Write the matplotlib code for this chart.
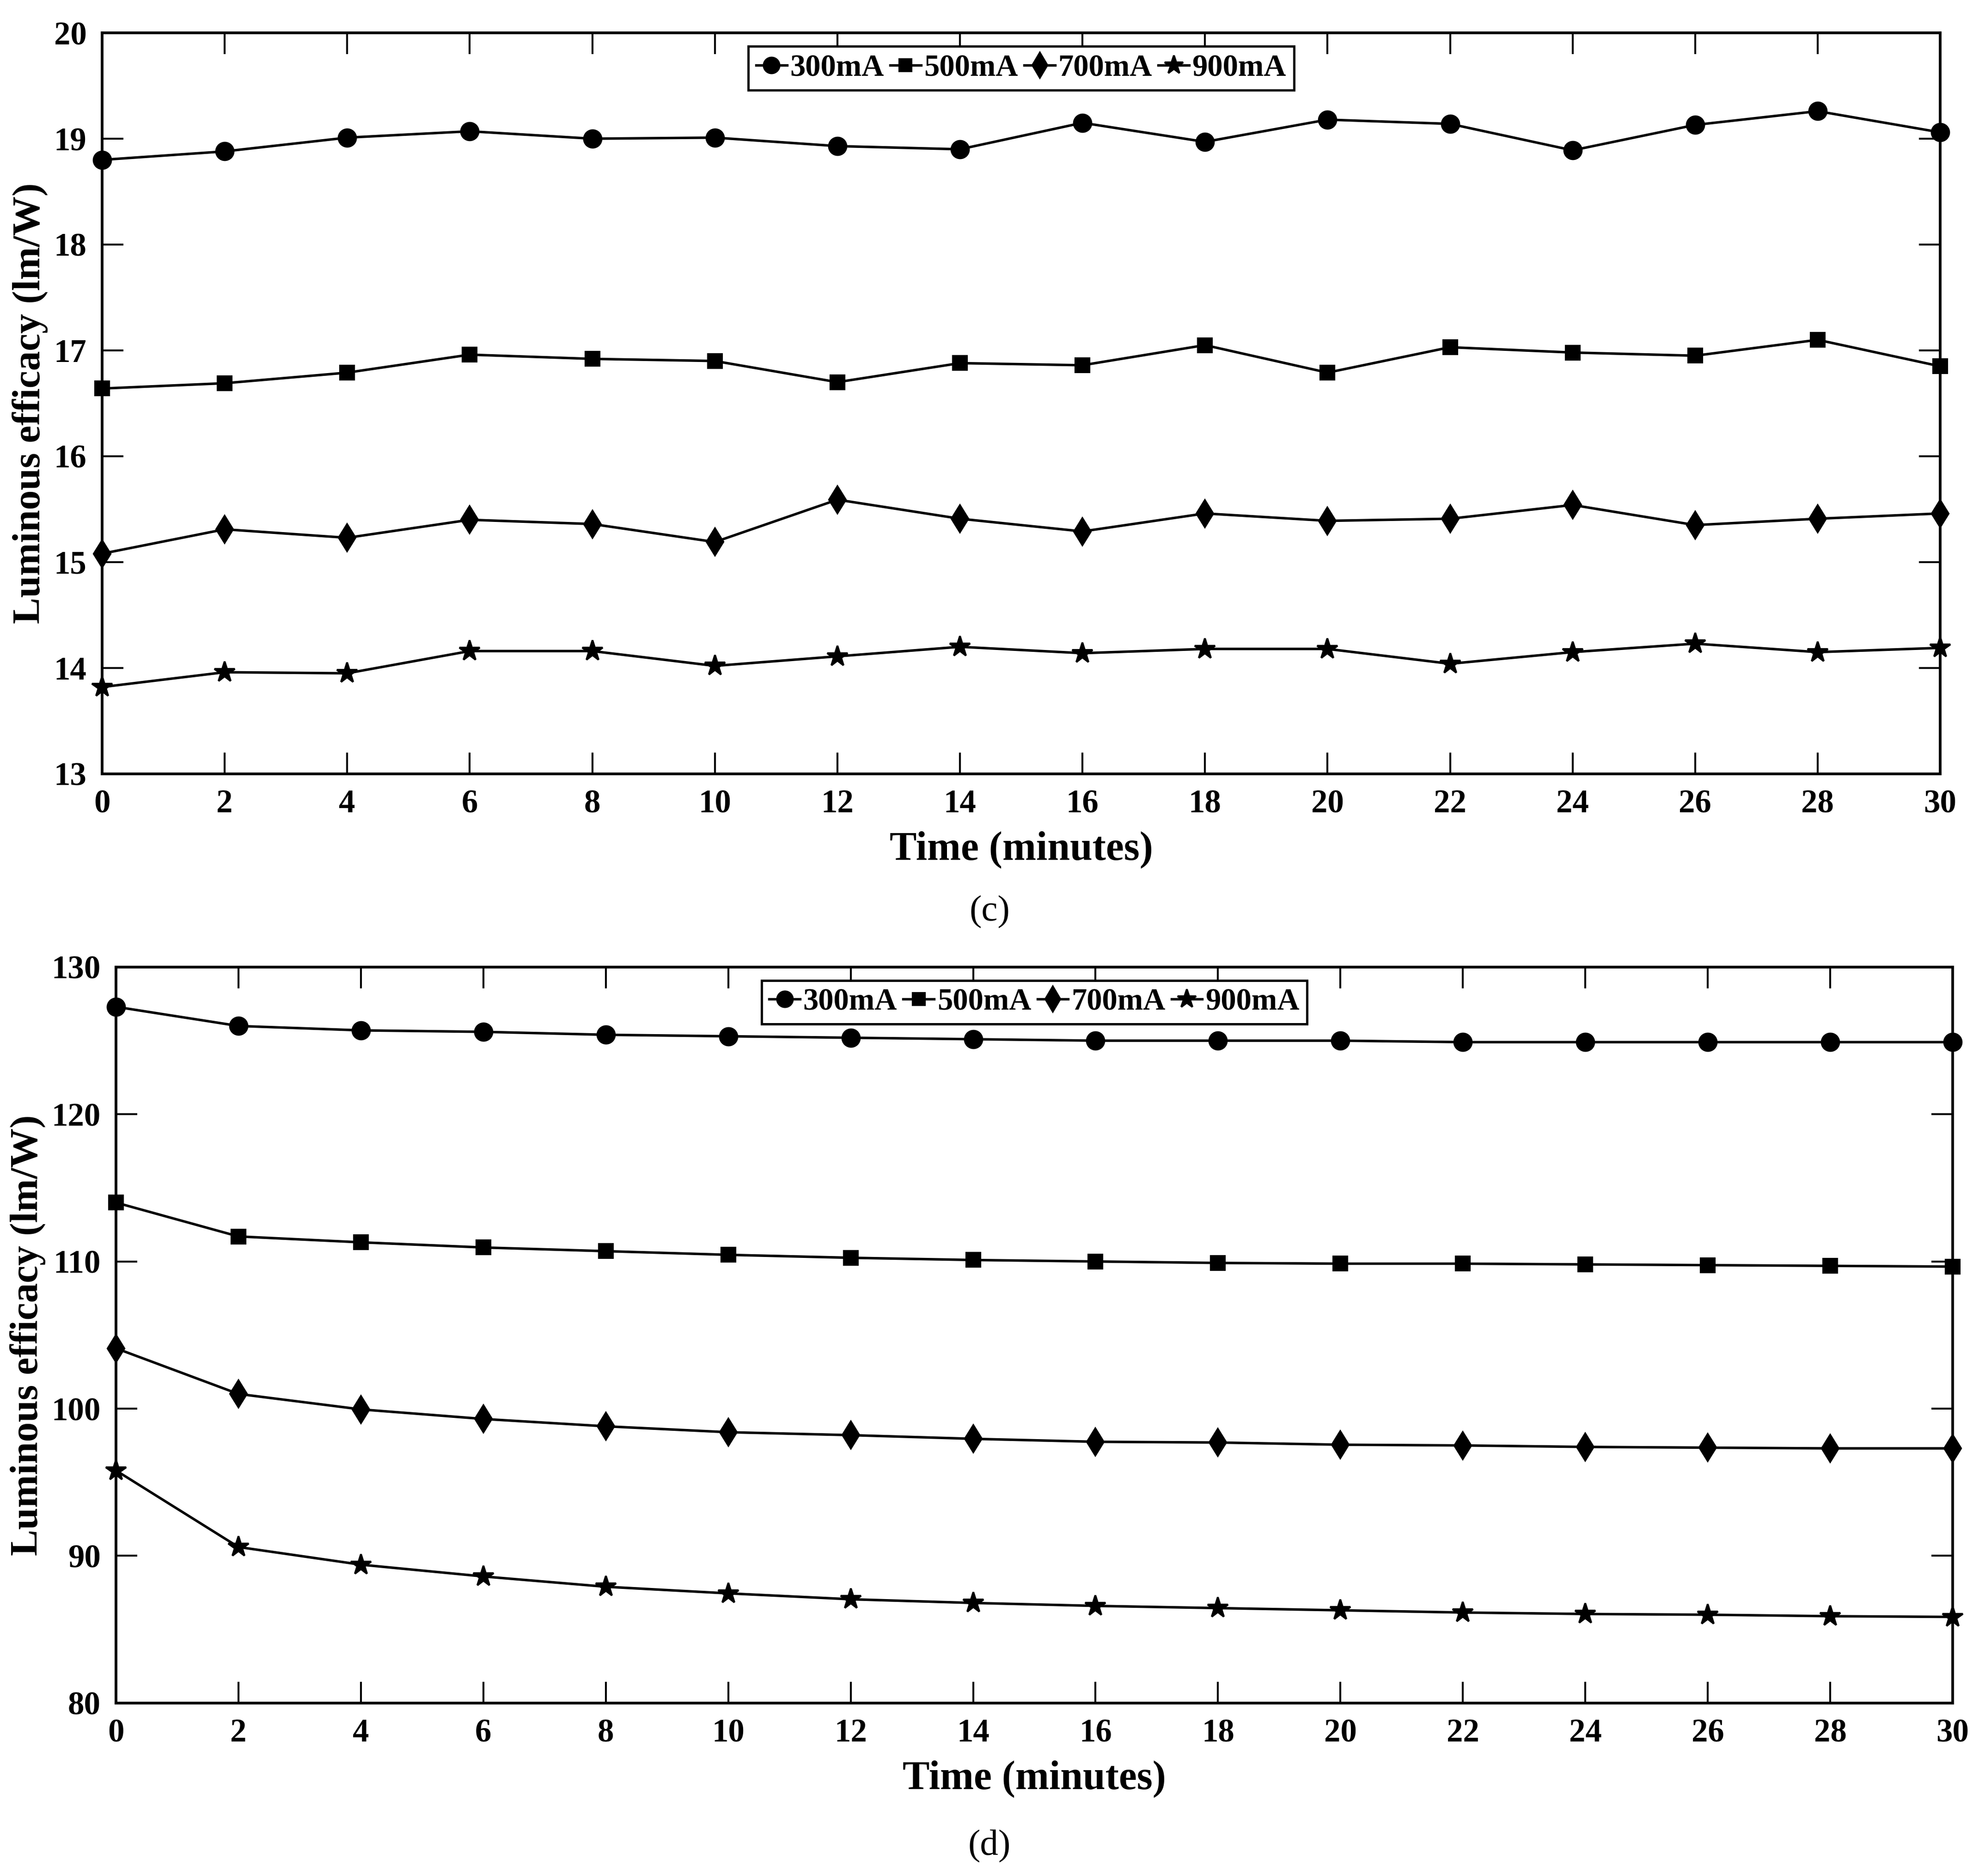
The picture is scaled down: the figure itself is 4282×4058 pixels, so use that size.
import matplotlib.pyplot as plt

plt.rcParams['font.family'] = ['Liberation Serif', 'DejaVu Serif']
plt.rcParams['font.weight'] = 'bold'

time_min = [0, 2, 4, 6, 8, 10, 12, 14, 16, 18, 20, 22, 24, 26, 28, 30]
labels = ['300mA', '500mA', '700mA', '900mA']
markers = ['o', 's', 'd', '*']
marker_sizes = [9, 7, 10, 11]

# panel (c)
c_300 = [18.80, 18.88, 19.01, 19.07, 19.00, 19.01, 18.93, 18.90, 19.15, 18.97, 19.18, 19.14, 18.89, 19.13, 19.26, 19.06]
c_500 = [16.64, 16.69, 16.79, 16.96, 16.92, 16.90, 16.70, 16.88, 16.86, 17.05, 16.79, 17.03, 16.98, 16.95, 17.10, 16.85]
c_700 = [15.08, 15.31, 15.23, 15.40, 15.36, 15.19, 15.59, 15.41, 15.29, 15.46, 15.39, 15.41, 15.54, 15.35, 15.41, 15.46]
c_900 = [13.82, 13.96, 13.95, 14.16, 14.16, 14.02, 14.11, 14.20, 14.14, 14.18, 14.18, 14.04, 14.15, 14.23, 14.15, 14.19]

# panel (d)
d_300 = [127.3, 126.0, 125.7, 125.6, 125.4, 125.3, 125.2, 125.1, 125.0, 125.0, 125.0, 124.9, 124.9, 124.9, 124.9, 124.9]
d_500 = [114.0, 111.7, 111.3, 110.95, 110.7, 110.45, 110.25, 110.1, 110.0, 109.9, 109.85, 109.85, 109.8, 109.75, 109.7, 109.65]
d_700 = [104.1, 101.0, 99.95, 99.3, 98.8, 98.4, 98.2, 97.95, 97.75, 97.7, 97.55, 97.5, 97.4, 97.35, 97.3, 97.3]
d_900 = [95.8, 90.6, 89.4, 88.6, 87.9, 87.45, 87.05, 86.8, 86.6, 86.45, 86.3, 86.15, 86.05, 86.0, 85.9, 85.85]

panels = [
    ([c_300, c_500, c_700, c_900], (13, 20), range(13, 21), '(c)',
     [0.0516, 0.5875, 0.9288, 0.395], 0.514),
    ([d_300, d_500, d_700, d_900], (80, 130), range(80, 131, 10), '(d)',
     [0.0586, 0.0922, 0.9281, 0.3923], 0.016),
]

fig = plt.figure(figsize=(4282 / 300, 4058 / 300), dpi=300)

for series, ylim, yticks, tag, rect, tag_y in panels:
    ax = fig.add_axes(rect)
    for values, label, marker, ms in zip(series, labels, markers, marker_sizes):
        ax.plot(time_min, values, color='black', linewidth=1.3, marker=marker,
                markersize=ms, label=label, clip_on=False)
    ax.set_xlim(0, 30)
    ax.set_ylim(*ylim)
    ax.set_xticks(time_min)
    ax.set_yticks(list(yticks))
    ax.tick_params(direction='in', length=11, width=1.0, top=True, right=True,
                   labelsize=17, pad=8)
    for spine in ax.spines.values():
        spine.set_linewidth(1.4)
    ax.set_xlabel('Time (minutes)', fontsize=21, fontweight='bold', labelpad=6)
    ax.set_ylabel('Luminous efficacy (lm/W)', fontsize=20.5, fontweight='bold', labelpad=3)
    leg = ax.legend(loc='upper center', bbox_to_anchor=(0.5, 0.99), ncol=4, fontsize=16,
                    handlelength=1.0, handletextpad=0.1, columnspacing=0.2,
                    borderpad=0.25, borderaxespad=0.2, fancybox=False, edgecolor='black',
                    framealpha=1, markerscale=0.9)
    leg.get_frame().set_linewidth(1.2)
    fig.text(0.5, tag_y, tag, ha='center', va='center', fontsize=19, fontweight='normal')

fig.savefig('out.png', dpi=300)
